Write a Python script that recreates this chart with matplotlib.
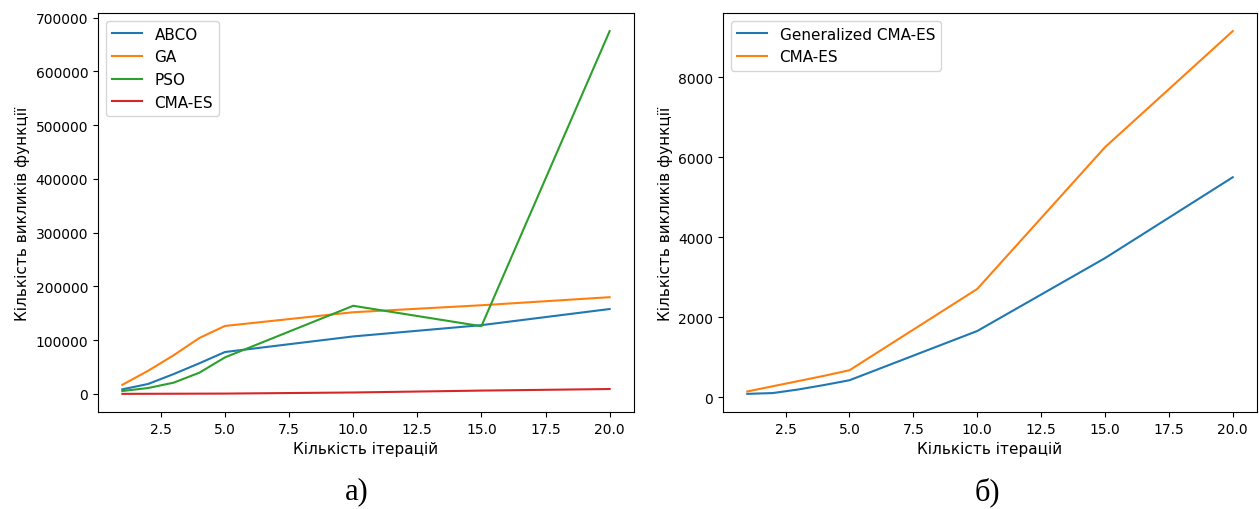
import matplotlib
matplotlib.use("Agg")
import matplotlib.pyplot as plt

iterations = [1, 2, 3, 4, 5, 10, 15, 20]

abco = [8600, 18500, 37000, 57000, 78000, 107000, 128000, 158000]
ga = [17000, 43000, 72000, 104000, 126500, 152000, 165000, 180000]
pso = [5500, 11000, 21000, 39500, 68000, 164000, 126000, 675000]
cma_es = [150, 280, 410, 540, 680, 2710, 6250, 9150]
generalized_cma_es = [90, 110, 200, 310, 430, 1660, 3480, 5500]

left_labels = ["ABCO", "GA", "PSO", "CMA-ES"]
right_labels = ["Generalized CMA-ES", "CMA-ES"]
xlabel = "Кількість ітерацій"
ylabel = "Кількість викликів функції"
panel_labels = ["а)", "б)"]

W, H = 1259, 510
fig = plt.figure(figsize=(W / 100, H / 100), dpi=100)

ax1 = fig.add_axes([98 / W, (H - 413) / H, 536 / W, 399 / H])
ax2 = fig.add_axes([723 / W, (H - 413) / H, 534 / W, 399 / H])

for series, lab in zip([abco, ga, pso, cma_es], left_labels):
    ax1.plot(iterations, series, label=lab)
ax1.set_xlabel(xlabel, fontsize=11)
ax1.set_ylabel(ylabel, fontsize=11)
ax1.legend(loc="upper left", fontsize=11)

ax2.plot(iterations, generalized_cma_es, label=right_labels[0])
ax2.plot(iterations, cma_es, label=right_labels[1])
ax2.set_xlabel(xlabel, fontsize=11)
ax2.set_ylabel(ylabel, fontsize=11)
ax2.legend(loc="upper left", fontsize=11)

fig.text(357 / W, 1 - 492 / H, panel_labels[0], ha="center", va="center",
         fontsize=22, family="Liberation Serif")
fig.text(987 / W, 1 - 492 / H, panel_labels[1], ha="center", va="center",
         fontsize=22, family="Liberation Serif")

fig.savefig("out.png", dpi=100)
